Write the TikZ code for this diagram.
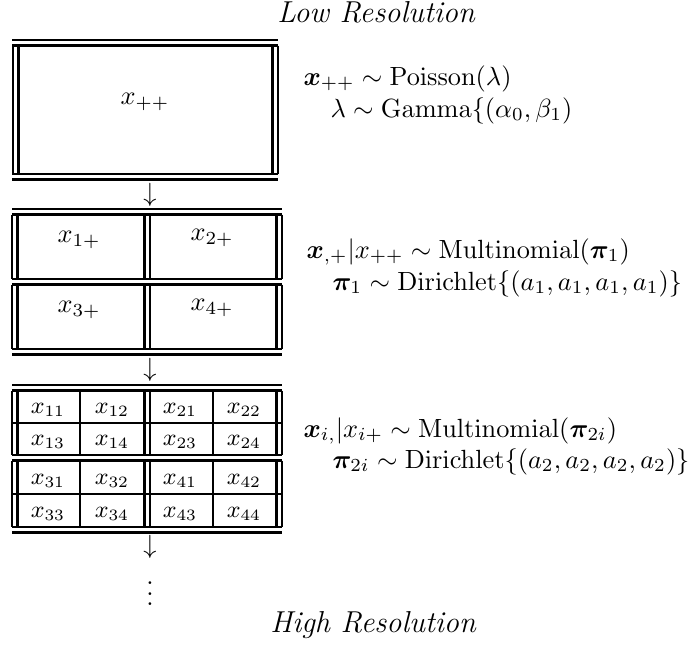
\documentclass[tikz,border=0pt]{standalone}
\usepackage{amsmath,bm}
\begin{document}
\begin{tikzpicture}[x=0.38pt,y=-0.38pt,
  rl/.style={line width=0.8pt},
  cell/.style={inner sep=0pt,font=\small},
  big/.style={inner sep=0pt},
  ttl/.style={anchor=base,inner sep=0pt,font=\fontsize{11.5}{14}\selectfont\itshape},
  eq/.style={anchor=base west,inner sep=0pt}]
\useasboundingbox (0,0) rectangle (694,645);
% titles
\node[ttl] (lo) at (376,22) {Low Resolution};
\node[ttl] (hi) at (373,632) {High Resolution};
% ---- block 1
\draw[rl] (12,40) -- (278,40) (12,45.5) -- (278,45.5);
\draw[rl] (13,45.5) -- (13,174) (18.5,45.5) -- (18.5,174)
          (272.5,45.5) -- (272.5,174) (278,45.5) -- (278,174);
\draw[rl] (12,174) -- (278,174) (12,179.5) -- (278,179.5);
\node[big] (xpp) at (145,102) {$x_{++}$};
\node[inner sep=0pt] (a1) at (150,195) {$\downarrow$};
% ---- block 2
\draw[rl] (12,209) -- (282,209) (12,214.5) -- (282,214.5);
\foreach \ya/\yb in {214.5/279, 284.5/349}{
  \draw[rl] (12,\ya) -- (12,\yb) (17.5,\ya) -- (17.5,\yb)
            (144.5,\ya) -- (144.5,\yb) (150,\ya) -- (150,\yb)
            (276.5,\ya) -- (276.5,\yb) (282,\ya) -- (282,\yb);
}
\draw[rl] (12,279) -- (282,279) (12,284.5) -- (282,284.5);
\draw[rl] (12,349) -- (282,349) (12,354.5) -- (282,354.5);
\node[big] (x1p) at (79,240) {$x_{1+}$};
\node[big] (x2p) at (212,238) {$x_{2+}$};
\node[big] (x3p) at (79,310) {$x_{3+}$};
\node[big] (x4p) at (212,308) {$x_{4+}$};
\node[inner sep=0pt] (a2) at (150,370) {$\downarrow$};
% ---- block 3
\draw[rl] (12,385) -- (282,385) (12,390.5) -- (282,390.5);
\foreach \ya/\yb in {390.5/455, 460.5/527}{
  \draw[rl] (12,\ya) -- (12,\yb) (17.5,\ya) -- (17.5,\yb)
            (80,\ya) -- (80,\yb)
            (144.5,\ya) -- (144.5,\yb) (150,\ya) -- (150,\yb)
            (213,\ya) -- (213,\yb)
            (276.5,\ya) -- (276.5,\yb) (282,\ya) -- (282,\yb);
}
\draw[rl] (12,423) -- (282,423) (12,494) -- (282,494);
\draw[rl] (12,455) -- (282,455) (12,460.5) -- (282,460.5);
\draw[rl] (12,527) -- (282,527) (12,532.5) -- (282,532.5);
\node[cell] (c11) at (48,410) {$x_{11}$};
\node[cell] (c12) at (112,410) {$x_{12}$};
\node[cell] (c21) at (180,410) {$x_{21}$};
\node[cell] (c22) at (244,410) {$x_{22}$};
\node[cell] (c13) at (48,442) {$x_{13}$};
\node[cell] (c14) at (112,442) {$x_{14}$};
\node[cell] (c23) at (180,442) {$x_{23}$};
\node[cell] (c24) at (244,442) {$x_{24}$};
\node[cell] (c31) at (48,481) {$x_{31}$};
\node[cell] (c32) at (112,481) {$x_{32}$};
\node[cell] (c41) at (180,481) {$x_{41}$};
\node[cell] (c42) at (244,481) {$x_{42}$};
\node[cell] (c33) at (48,514) {$x_{33}$};
\node[cell] (c34) at (112,514) {$x_{34}$};
\node[cell] (c43) at (180,514) {$x_{43}$};
\node[cell] (c44) at (244,514) {$x_{44}$};
\node[inner sep=0pt] (a3) at (150,547) {$\downarrow$};
\node[inner sep=0pt] (vd) at (150,586) {$\vdots$};
% ---- equations
\node[eq] (e1a) at (303,85) {$\bm{x}_{++}\sim\mathrm{Poisson}(\lambda)$};
\node[eq] (e1b) at (330,117) {$\lambda\sim\mathrm{Gamma}\{(\alpha_0,\beta_1)$};
\node[eq] (e2a) at (306,258) {$\bm{x}_{,+}|x_{++}\sim\mathrm{Multinomial}(\bm{\pi}_1)$};
\node[eq] (e2b) at (332,290) {$\bm{\pi}_1\sim\mathrm{Dirichlet}\{(a_1,a_1,a_1,a_1)\}$};
\node[eq] (e3a) at (303,437) {$\bm{x}_{i,}|x_{i+}\sim\mathrm{Multinomial}(\bm{\pi}_{2i})$};
\node[eq] (e3b) at (332,468) {$\bm{\pi}_{2i}\sim\mathrm{Dirichlet}\{(a_2,a_2,a_2,a_2)\}$};
\end{tikzpicture}
\end{document}
